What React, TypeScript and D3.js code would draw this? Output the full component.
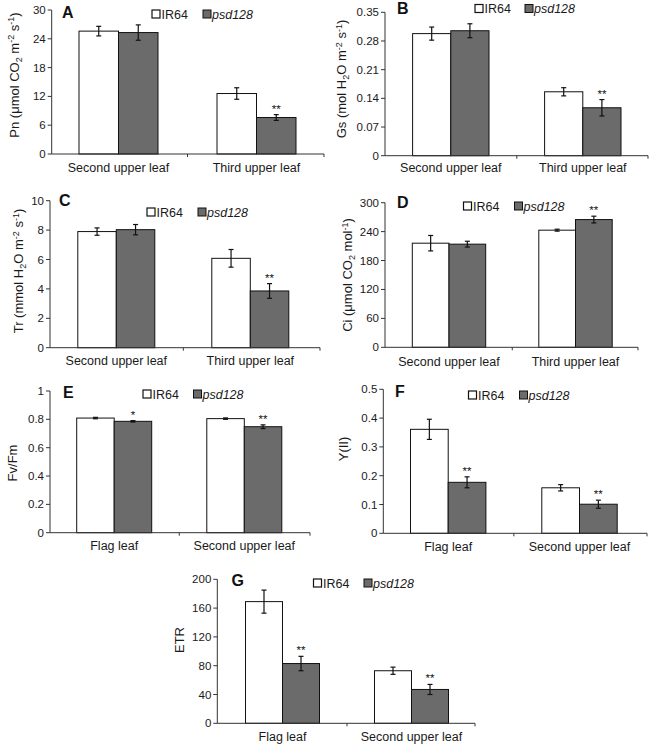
import React from "react";
import * as d3 from "d3";

// ---------- data ----------
const seriesNames = ["IR64", "psd128"];
const leavesUpper = ["Second upper leaf", "Third upper leaf"];
const leavesFlag = ["Flag leaf", "Second upper leaf"];

const pnIR64 = [25.6, 12.6];
const pnIR64Err = [1.0, 1.2];
const pnPsd = [25.3, 7.6];
const pnPsdErr = [1.6, 0.6];
const pnStars = ["", "**"];
const pnTicks = [0, 6, 12, 18, 24, 30];

const gsIR64 = [0.298, 0.156];
const gsIR64Err = [0.016, 0.01];
const gsPsd = [0.305, 0.117];
const gsPsdErr = [0.017, 0.02];
const gsStars = ["", "**"];
const gsTicks = [0, 0.07, 0.14, 0.21, 0.28, 0.35];

const trIR64 = [7.9, 6.08];
const trIR64Err = [0.25, 0.6];
const trPsd = [8.03, 3.86];
const trPsdErr = [0.35, 0.5];
const trStars = ["", "**"];
const trTicks = [0, 2, 4, 6, 8, 10];

const ciIR64 = [216, 243];
const ciIR64Err = [16, 2];
const ciPsd = [214, 265];
const ciPsdErr = [6, 7];
const ciStars = ["", "**"];
const ciTicks = [0, 60, 120, 180, 240, 300];

const fvIR64 = [0.809, 0.805];
const fvIR64Err = [0.005, 0.005];
const fvPsd = [0.786, 0.748];
const fvPsdErr = [0.005, 0.013];
const fvStars = ["*", "**"];
const fvTicks = [0, 0.2, 0.4, 0.6, 0.8, 1];

const yIR64 = [0.361, 0.158];
const yIR64Err = [0.035, 0.011];
const yPsd = [0.177, 0.101];
const yPsdErr = [0.019, 0.014];
const yStars = ["**", "**"];
const yTicks = [0, 0.1, 0.2, 0.3, 0.4, 0.5];

const etrIR64 = [169, 73];
const etrIR64Err = [16, 5];
const etrPsd = [83, 47];
const etrPsdErr = [10, 7];
const etrStars = ["**", "**"];
const etrTicks = [0, 40, 80, 120, 160, 200];

// ---------- styles ----------
const FONT = "Arial, 'Liberation Sans', sans-serif";
const DARK = "#6b6b6b";
const AXIS = "#333";
const TEXT = "#1a1a1a";

type Seg = { t: string; sub?: boolean; sup?: boolean };

function Label({ segs, x, y }: { segs: Seg[]; x: number; y: number }) {
  const out: any[] = [];
  let shift = 0;
  segs.forEach((s, i) => {
    const target = s.sub ? 3 : s.sup ? -4.5 : 0;
    const dy = target - shift;
    shift = target;
    out.push(
      <tspan key={i} dy={dy} fontSize={s.sub || s.sup ? 9 : 13}>
        {s.t}
      </tspan>
    );
  });
  return (
    <text
      transform={`translate(${x},${y}) rotate(-90)`}
      textAnchor="middle"
      fontFamily={FONT}
      fontSize={13}
      fill={TEXT}
    >
      {out}
    </text>
  );
}

interface PanelCfg {
  letter: string;
  letterX: number;
  letterY: number;
  axisX: number;
  axisEnd: number;
  c1: number;
  c2: number;
  bw: number;
  yTop: number;
  y0: number;
  ticks: number[];
  cats: string[];
  a: number[];
  aErr: number[];
  b: number[];
  bErr: number[];
  stars: string[];
  label: Seg[];
  labelX: number;
  labelY: number;
  catY: number;
  legX: number;
  legY: number;
  legX2: number;
}

function Panel({ p }: { p: PanelCfg }) {
  const max = p.ticks[p.ticks.length - 1];
  const y = d3.scaleLinear().domain([0, max]).range([p.y0, p.yTop]);
  const s = p.c2 - p.c1;
  const pad = 1 - (2 * p.bw) / s;
  const x0 = d3
    .scaleBand<string>()
    .domain(p.cats)
    .range([p.c1 - s / 2, p.c2 + s / 2])
    .paddingInner(pad)
    .paddingOuter(pad / 2);
  const x1 = d3.scaleBand<string>().domain(seriesNames).range([0, x0.bandwidth()]);
  const vals = [p.a, p.b];
  const errs = [p.aErr, p.bErr];
  const mid = (p.c1 + p.c2) / 2;
  return (
    <g>
      {p.cats.map((c, ci) =>
        seriesNames.map((sn, si) => {
          const v = vals[si][ci];
          const e = errs[si][ci];
          const bx = (x0(c) as number) + (x1(sn) as number);
          const cx = bx + x1.bandwidth() / 2;
          const top = y(v + e);
          const bot = y(v - e);
          return (
            <g key={c + sn}>
              <rect
                x={bx}
                y={y(v)}
                width={x1.bandwidth()}
                height={p.y0 - y(v)}
                fill={si === 0 ? "#fff" : DARK}
                stroke="#111"
                strokeWidth={1}
              />
              <line x1={cx} x2={cx} y1={bot} y2={top} stroke="#111" strokeWidth={1.2} />
              <line x1={cx - 2.5} x2={cx + 2.5} y1={top} y2={top} stroke="#111" strokeWidth={1.2} />
              <line x1={cx - 2.5} x2={cx + 2.5} y1={bot} y2={bot} stroke="#111" strokeWidth={1.2} />
              {si === 1 && p.stars[ci] ? (
                <text
                  x={cx}
                  y={top - 2}
                  textAnchor="middle"
                  fontFamily={FONT}
                  fontSize={11.5}
                  fill="#111"
                >
                  {p.stars[ci]}
                </text>
              ) : null}
            </g>
          );
        })
      )}
      <line x1={p.axisX} x2={p.axisX} y1={p.y0} y2={p.yTop} stroke={AXIS} strokeWidth={1} />
      {p.ticks.map((t) => (
        <g key={t}>
          <line x1={p.axisX - 4} x2={p.axisX} y1={y(t)} y2={y(t)} stroke={AXIS} strokeWidth={1} />
          <text
            x={p.axisX - 6}
            y={y(t) + 4}
            textAnchor="end"
            fontFamily={FONT}
            fontSize={11.5}
            fill={TEXT}
          >
            {String(t)}
          </text>
        </g>
      ))}
      <line x1={p.axisX} x2={p.axisEnd} y1={p.y0} y2={p.y0} stroke={AXIS} strokeWidth={1} />
      <line x1={mid} x2={mid} y1={p.y0} y2={p.y0 + 3} stroke={AXIS} strokeWidth={1} />
      <line x1={p.axisEnd} x2={p.axisEnd} y1={p.y0} y2={p.y0 + 3} stroke={AXIS} strokeWidth={1} />
      {p.cats.map((c) => (
        <text
          key={c}
          x={(x0(c) as number) + x0.bandwidth() / 2}
          y={p.catY + 4.5}
          textAnchor="middle"
          fontFamily={FONT}
          fontSize={12.5}
          fill={TEXT}
        >
          {c}
        </text>
      ))}
      <Label segs={p.label} x={p.labelX} y={p.labelY} />
      <text x={p.letterX} y={p.letterY} fontFamily={FONT} fontSize={16} fontWeight="bold" fill="#111">
        {p.letter}
      </text>
      <rect x={p.legX} y={p.legY} width={8} height={8} fill="#fff" stroke="#111" strokeWidth={1.2} />
      <text x={p.legX + 9.5} y={p.legY + 8.7} fontFamily={FONT} fontSize={12.5} fill={TEXT}>
        {seriesNames[0]}
      </text>
      <rect x={p.legX2} y={p.legY} width={8} height={8} fill={DARK} stroke="#111" strokeWidth={1} />
      <text
        x={p.legX2 + 9}
        y={p.legY + 8.7}
        fontFamily={FONT}
        fontSize={12.5}
        fontStyle="italic"
        fill={TEXT}
      >
        {seriesNames[1]}
      </text>
    </g>
  );
}

export default function App() {
  const panels: PanelCfg[] = [
    {
      letter: "A", letterX: 62, letterY: 17.5,
      axisX: 51.7, axisEnd: 324, c1: 118.5, c2: 256.5, bw: 39.5, yTop: 10, y0: 154,
      ticks: pnTicks, cats: leavesUpper, a: pnIR64, aErr: pnIR64Err, b: pnPsd, bErr: pnPsdErr, stars: pnStars,
      label: [{ t: "Pn (μmol CO" }, { t: "2", sub: true }, { t: " m" }, { t: "-2", sup: true }, { t: " s" }, { t: "-1", sup: true }, { t: ")" }],
      labelX: 18.5, labelY: 75, catY: 167, legX: 152, legY: 10, legX2: 203,
    },
    {
      letter: "B", letterX: 397, letterY: 14,
      axisX: 385, axisEnd: 648, c1: 450.8, c2: 582.8, bw: 38.2, yTop: 12.3, y0: 155.7,
      ticks: gsTicks, cats: leavesUpper, a: gsIR64, aErr: gsIR64Err, b: gsPsd, bErr: gsPsdErr, stars: gsStars,
      label: [{ t: "Gs (mol H" }, { t: "2", sub: true }, { t: "O m" }, { t: "-2", sup: true }, { t: " s" }, { t: "-1", sup: true }, { t: ")" }],
      labelX: 346, labelY: 79, catY: 167, legX: 475, legY: 4.5, legX2: 525,
    },
    {
      letter: "C", letterX: 59, letterY: 205.5,
      axisX: 50, axisEnd: 320, c1: 116.3, c2: 250.3, bw: 38.5, yTop: 200.7, y0: 347.7,
      ticks: trTicks, cats: leavesUpper, a: trIR64, aErr: trIR64Err, b: trPsd, bErr: trPsdErr, stars: trStars,
      label: [{ t: "Tr (mmol H" }, { t: "2", sub: true }, { t: "O m" }, { t: "-2", sup: true }, { t: " s" }, { t: "-1", sup: true }, { t: ")" }],
      labelX: 23, labelY: 271, catY: 360, legX: 147, legY: 208, legX2: 198,
    },
    {
      letter: "D", letterX: 397, letterY: 207.5,
      axisX: 385, axisEnd: 638, c1: 449, c2: 575.5, bw: 36.7, yTop: 202.7, y0: 347.3,
      ticks: ciTicks, cats: leavesUpper, a: ciIR64, aErr: ciIR64Err, b: ciPsd, bErr: ciPsdErr, stars: ciStars,
      label: [{ t: "Ci (μmol CO" }, { t: "2", sub: true }, { t: " mol" }, { t: "-1", sup: true }, { t: ")" }],
      labelX: 352, labelY: 275, catY: 361.7, legX: 463.5, legY: 202, legX2: 514.5,
    },
    {
      letter: "E", letterX: 63, letterY: 397.5,
      axisX: 50, axisEnd: 310, c1: 114.2, c2: 244.3, bw: 37.5, yTop: 391, y0: 532.7,
      ticks: fvTicks, cats: leavesFlag, a: fvIR64, aErr: fvIR64Err, b: fvPsd, bErr: fvPsdErr, stars: fvStars,
      label: [{ t: "Fv/Fm" }],
      labelX: 16.5, labelY: 463, catY: 545, legX: 143, legY: 390, legX2: 193.5,
    },
    {
      letter: "F", letterX: 395, letterY: 396.5,
      axisX: 383.3, axisEnd: 647, c1: 448.2, c2: 579.5, bw: 37.7, yTop: 389.3, y0: 533.3,
      ticks: yTicks, cats: leavesFlag, a: yIR64, aErr: yIR64Err, b: yPsd, bErr: yPsdErr, stars: yStars,
      label: [{ t: "Y(II)" }],
      labelX: 348, labelY: 449, catY: 546.7, legX: 468.5, legY: 391, legX2: 519.5,
    },
    {
      letter: "G", letterX: 231.5, letterY: 586,
      axisX: 217.3, axisEnd: 475, c1: 282.5, c2: 411.5, bw: 37, yTop: 579.3, y0: 723.3,
      ticks: etrTicks, cats: leavesFlag, a: etrIR64, aErr: etrIR64Err, b: etrPsd, bErr: etrPsdErr, stars: etrStars,
      label: [{ t: "ETR" }],
      labelX: 183.5, labelY: 640, catY: 736.7, legX: 313.5, legY: 579, legX2: 364,
    },
  ];
  return (
    <svg
      width={650}
      height={744}
      style={{ position: "absolute", left: 0, top: 0, background: "#fff" }}
    >
      <rect width={650} height={744} fill="#fff" />
      {panels.map((p) => (
        <Panel key={p.letter} p={p} />
      ))}
    </svg>
  );
}
